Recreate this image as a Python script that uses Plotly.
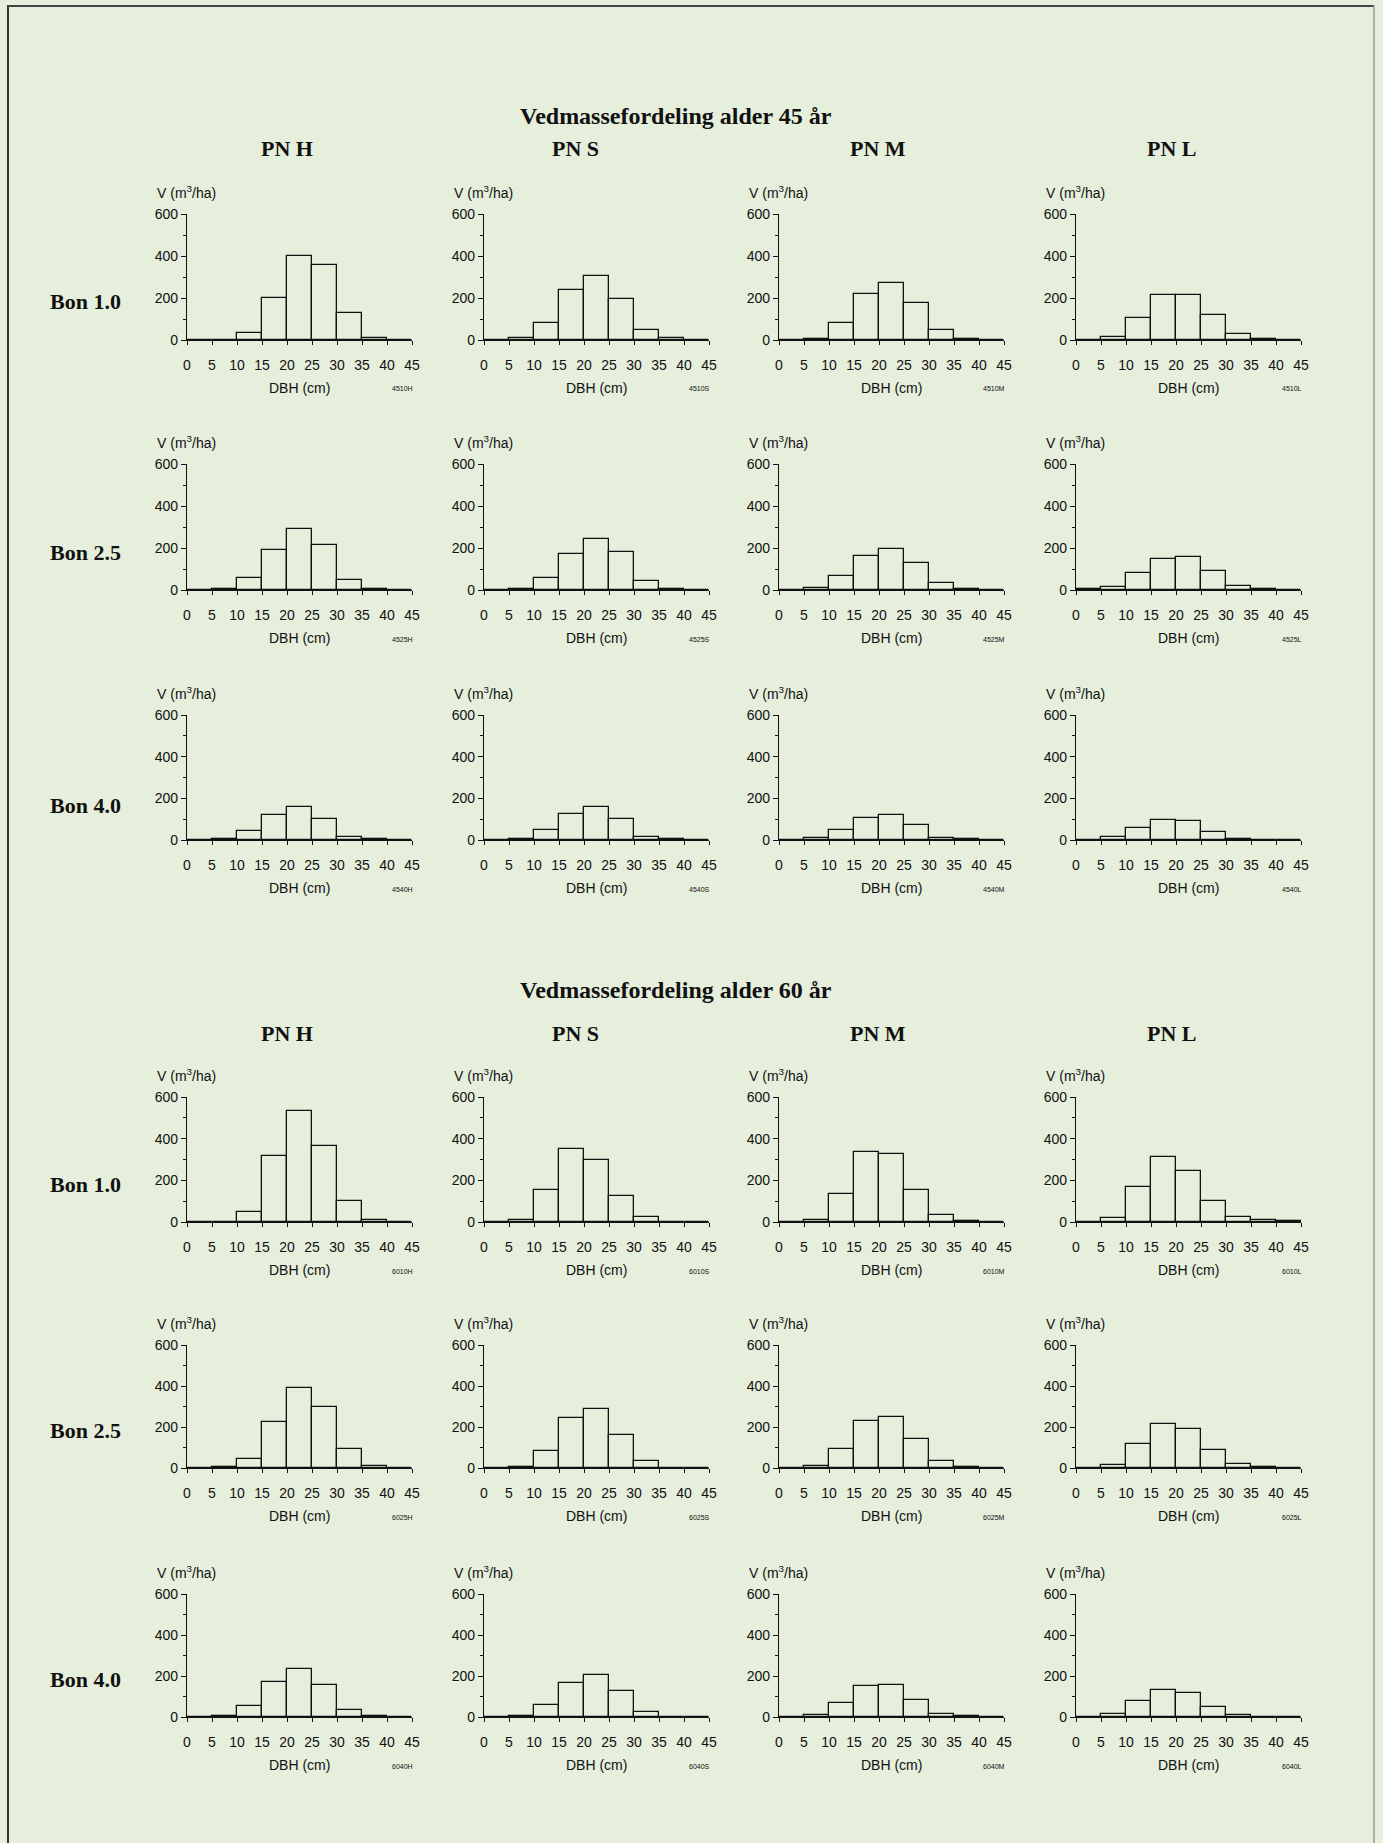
import plotly.graph_objects as go

W, H = 1383, 1843

# ---------------- data ----------------
bin_left = [0, 5, 10, 15, 20, 25, 30, 35, 40]
bin_width = 5
x_ticks = [0, 5, 10, 15, 20, 25, 30, 35, 40, 45]
y_ticks = [0, 200, 400, 600]

species = ["PN H", "PN S", "PN M", "PN L"]
site_labels = ["Bon 1.0", "Bon 2.5", "Bon 4.0"]
ages = ["Vedmassefordeling alder 45 år", "Vedmassefordeling alder 60 år"]

# age 45, site index 1.0
v45_10_H = [2, 2, 35, 200, 400, 355, 130, 10, 0]
v45_10_S = [0, 8, 80, 240, 305, 195, 50, 8, 0]
v45_10_M = [0, 5, 80, 220, 270, 175, 50, 3, 0]
v45_10_L = [0, 15, 105, 215, 215, 118, 28, 3, 0]
# age 45, site index 2.5
v45_25_H = [0, 5, 55, 190, 290, 215, 50, 3, 0]
v45_25_S = [0, 5, 55, 170, 245, 180, 45, 3, 0]
v45_25_M = [0, 8, 65, 160, 195, 130, 35, 5, 0]
v45_25_L = [3, 15, 80, 150, 155, 90, 18, 3, 0]
# age 45, site index 4.0
v45_40_H = [0, 5, 45, 120, 160, 100, 15, 3, 0]
v45_40_S = [0, 5, 50, 125, 160, 100, 15, 3, 0]
v45_40_M = [0, 8, 50, 105, 120, 70, 8, 3, 0]
v45_40_L = [0, 15, 60, 95, 90, 40, 3, 0, 0]
# age 60, site index 1.0
v60_10_H = [0, 0, 50, 315, 535, 365, 100, 8, 0]
v60_10_S = [0, 10, 155, 350, 300, 125, 25, 0, 0]
v60_10_M = [0, 10, 135, 335, 325, 155, 35, 5, 0]
v60_10_L = [0, 20, 170, 310, 245, 100, 22, 8, 5]
# age 60, site index 2.5
v60_25_H = [0, 3, 45, 225, 390, 300, 95, 8, 0]
v60_25_S = [0, 5, 85, 245, 290, 160, 35, 0, 0]
v60_25_M = [0, 8, 95, 230, 250, 140, 35, 5, 0]
v60_25_L = [0, 15, 115, 215, 190, 90, 18, 3, 0]
# age 60, site index 4.0
v60_40_H = [0, 5, 55, 170, 235, 155, 35, 3, 0]
v60_40_S = [0, 5, 60, 165, 205, 125, 25, 0, 0]
v60_40_M = [0, 8, 70, 150, 155, 85, 15, 3, 0]
v60_40_L = [0, 15, 80, 130, 115, 50, 8, 0, 0]

codes_45_10 = ["4510H", "4510S", "4510M", "4510L"]
codes_45_25 = ["4525H", "4525S", "4525M", "4525L"]
codes_45_40 = ["4540H", "4540S", "4540M", "4540L"]
codes_60_10 = ["6010H", "6010S", "6010M", "6010L"]
codes_60_25 = ["6025H", "6025S", "6025M", "6025L"]
codes_60_40 = ["6040H", "6040S", "6040M", "6040L"]

rows_values = [
    [v45_10_H, v45_10_S, v45_10_M, v45_10_L],
    [v45_25_H, v45_25_S, v45_25_M, v45_25_L],
    [v45_40_H, v45_40_S, v45_40_M, v45_40_L],
    [v60_10_H, v60_10_S, v60_10_M, v60_10_L],
    [v60_25_H, v60_25_S, v60_25_M, v60_25_L],
    [v60_40_H, v60_40_S, v60_40_M, v60_40_L],
]
rows_codes = [codes_45_10, codes_45_25, codes_45_40, codes_60_10, codes_60_25, codes_60_40]

# ---------------- layout geometry (pixels) ----------------
col_x0 = [187, 484, 779, 1076]
col_w = 225
row_y0 = [340, 590, 840, 1222, 1468, 1717]
row_ytop = [214, 464, 715, 1097, 1345, 1594]

BG = "#e6eedc"
SANS = "Liberation Sans, Arial, sans-serif"
SERIF = "Liberation Serif, Times New Roman, serif"


def px(x):
    return x / W


def py(y):
    return 1 - y / H


fig = go.Figure()
annotations = []
layout_axes = {}

idx = 0
for r in range(6):
    for c in range(4):
        idx += 1
        xa = "x" if idx == 1 else f"x{idx}"
        ya = "y" if idx == 1 else f"y{idx}"
        vals = rows_values[r][c]
        fig.add_trace(go.Bar(
            x=[b + bin_width / 2 for b in bin_left],
            y=vals,
            width=bin_width,
            marker=dict(color="rgba(0,0,0,0)", line=dict(color="#111111", width=1.3)),
            xaxis=xa, yaxis=ya, showlegend=False, hoverinfo="x+y",
        ))
        x0 = col_x0[c]
        layout_axes["xaxis" if idx == 1 else f"xaxis{idx}"] = dict(
            domain=[px(x0), px(x0 + col_w)], automargin=False,
            anchor=ya, range=[0, 45], tickvals=x_ticks,
            showline=True, linecolor="#111111", linewidth=1.3,
            ticks="outside", ticklen=4, tickwidth=1.2, tickcolor="#111111",
            showgrid=False, zeroline=False, fixedrange=True,
            tickfont=dict(family=SANS, size=14, color="#111111"),
            ticklabelstandoff=8,
        )
        layout_axes["yaxis" if idx == 1 else f"yaxis{idx}"] = dict(
            domain=[py(row_y0[r]), py(row_ytop[r])], automargin=False,
            anchor=xa, range=[0, 600], tickvals=y_ticks,
            showline=True, linecolor="#111111", linewidth=1.3,
            ticks="outside", ticklen=5, tickwidth=1.2, tickcolor="#111111",
            minor=dict(dtick=100, tick0=0, ticks="outside", ticklen=3, tickwidth=1, tickcolor="#111111"),
            showgrid=False, zeroline=False, fixedrange=True,
            tickfont=dict(family=SANS, size=14, color="#111111"),
        )
        # y-axis title
        annotations.append(dict(
            text="V (m<sup>3</sup>/ha)", x=px(x0 - 32), y=py(row_ytop[r] - 22),
            xref="paper", yref="paper", xanchor="left", yanchor="middle",
            showarrow=False, font=dict(family=SANS, size=14, color="#111111"),
        ))
        # x-axis title
        annotations.append(dict(
            text="DBH (cm)", x=px(x0 + col_w / 2), y=py(row_y0[r] + 48),
            xref="paper", yref="paper", xanchor="center", yanchor="middle",
            showarrow=False, font=dict(family=SANS, size=14, color="#111111"),
        ))
        # panel code
        annotations.append(dict(
            text=rows_codes[r][c], x=px(x0 + col_w + 3), y=py(row_y0[r] + 49),
            xref="paper", yref="paper", xanchor="right", yanchor="middle",
            showarrow=False, font=dict(family=SANS, size=7, color="#111111"),
        ))

# row labels
row_label_y = [302, 552, 805, 1184, 1430, 1679]
for r in range(6):
    annotations.append(dict(
        text=f"<b>{site_labels[r % 3]}</b>", x=px(85), y=py(row_label_y[r]),
        xref="paper", yref="paper", xanchor="center", yanchor="middle",
        showarrow=False, font=dict(family=SERIF, size=22, color="#111111"),
    ))

# section titles and column headers
title_y = [116, 990]
header_y = [149, 1033]
header_x = [287, 575, 878, 1172]
for s in range(2):
    annotations.append(dict(
        text=f"<b>{ages[s]}</b>", x=px(676), y=py(title_y[s]),
        xref="paper", yref="paper", xanchor="center", yanchor="middle",
        showarrow=False, font=dict(family=SERIF, size=24, color="#111111"),
    ))
    for c in range(4):
        annotations.append(dict(
            text=f"<b>{species[c]}</b>", x=px(header_x[c]), y=py(header_y[s]),
            xref="paper", yref="paper", xanchor="center", yanchor="middle",
            showarrow=False, font=dict(family=SERIF, size=22, color="#111111"),
        ))

shapes = [
    dict(type="line", xref="paper", yref="paper", x0=px(8), x1=px(8), y0=0, y1=py(5),
         line=dict(color="#333333", width=2)),
    dict(type="line", xref="paper", yref="paper", x0=px(8), x1=px(1374), y0=py(6), y1=py(6),
         line=dict(color="#444444", width=2)),
    dict(type="line", xref="paper", yref="paper", x0=px(1374), x1=px(1374), y0=0, y1=py(5),
         line=dict(color="#9a9a9a", width=1.5)),
]

fig.update_layout(
    width=W, height=H,
    margin=dict(l=0, r=0, t=0, b=0, pad=0, autoexpand=False),
    paper_bgcolor=BG, plot_bgcolor="rgba(0,0,0,0)",
    annotations=annotations, shapes=shapes,
    bargap=0, showlegend=False,
    **layout_axes,
)

fig.write_html("out.html", config={"displayModeBar": False})
